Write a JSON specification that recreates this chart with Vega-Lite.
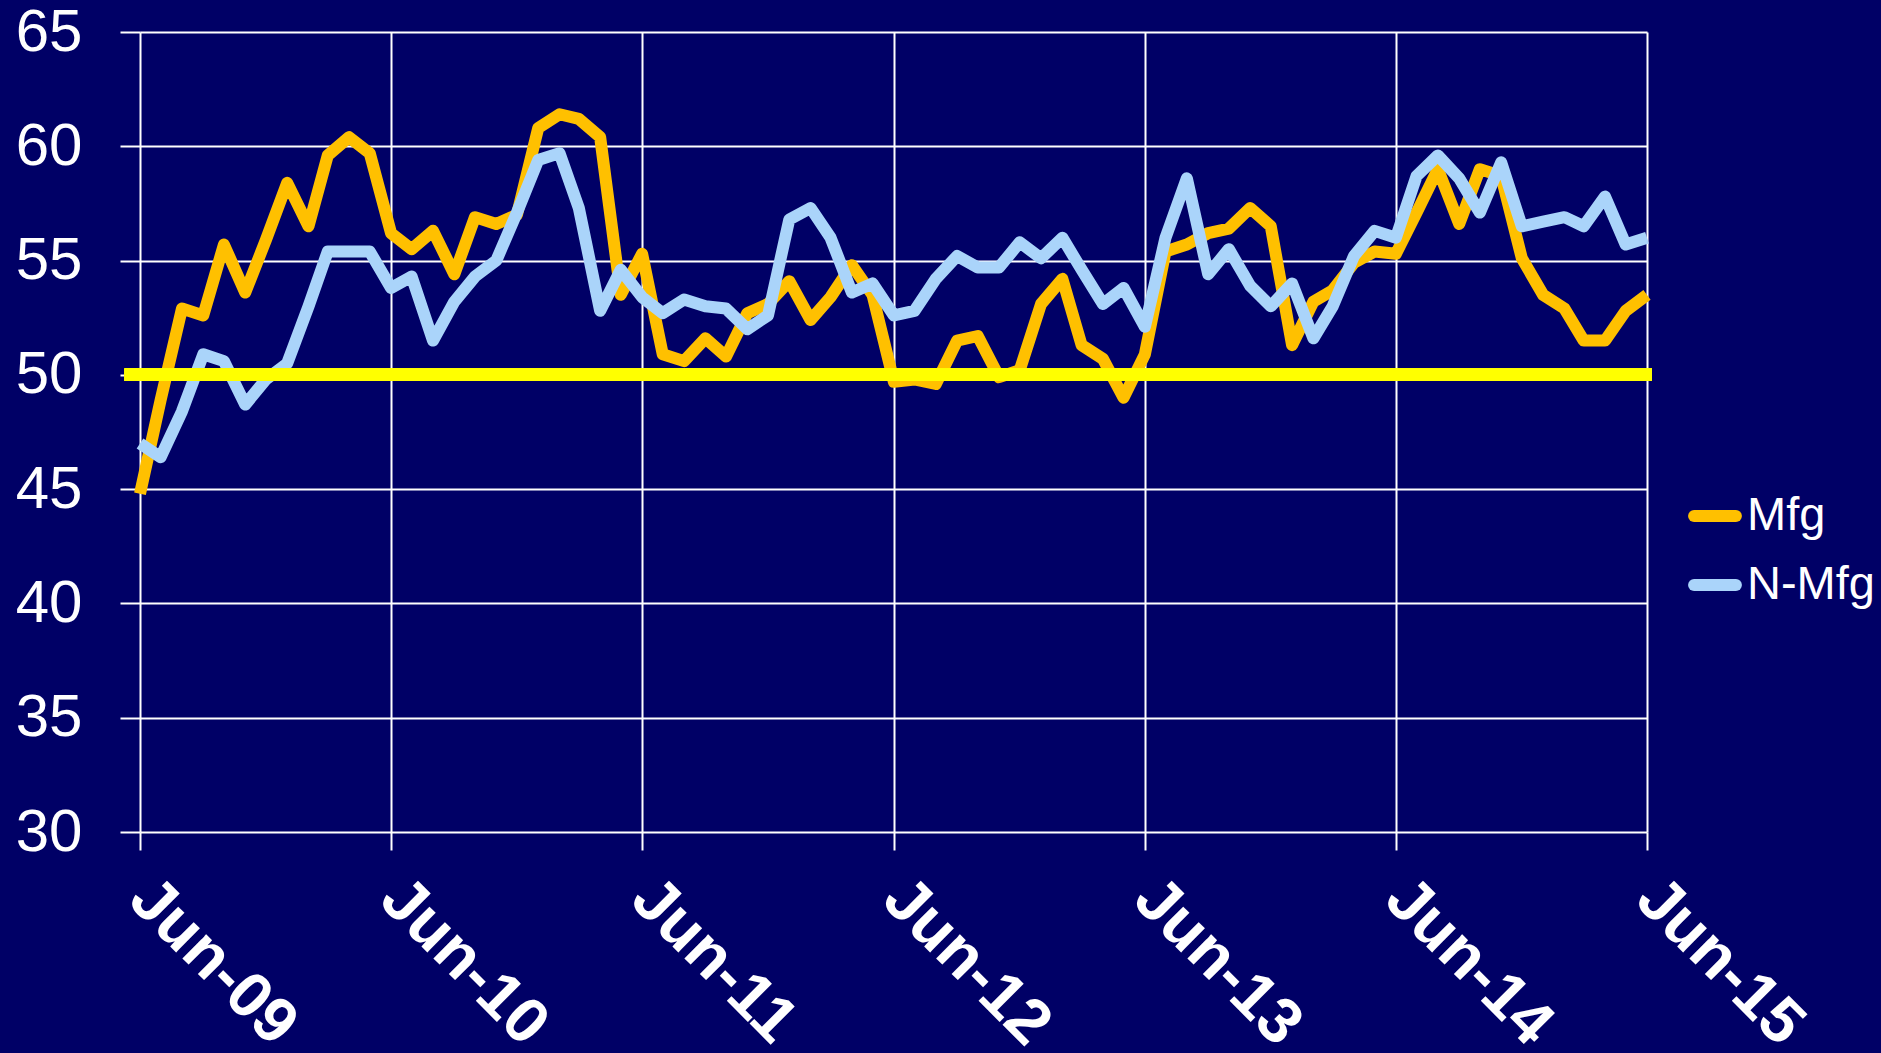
{
  "$schema": "https://vega.github.io/schema/vega-lite/v6.json",
  "width": 1507,
  "height": 800,
  "autosize": {"type": "none"},
  "padding": {"left": 140, "top": 32, "right": 234, "bottom": 221},
  "background": "#000066",
  "config": {
    "view": {"stroke": null},
    "font": "Liberation Sans",
    "legend": {"labelFont": "Liberation Sans"}
  },
  "datasets": {
    "pmi": [
      {"date": "2009-06-01", "series": "Mfg", "value": 44.8},
      {"date": "2009-07-01", "series": "Mfg", "value": 48.9},
      {"date": "2009-08-01", "series": "Mfg", "value": 52.9},
      {"date": "2009-09-01", "series": "Mfg", "value": 52.6},
      {"date": "2009-10-01", "series": "Mfg", "value": 55.7},
      {"date": "2009-11-01", "series": "Mfg", "value": 53.6},
      {"date": "2009-12-01", "series": "Mfg", "value": 55.9},
      {"date": "2010-01-01", "series": "Mfg", "value": 58.4},
      {"date": "2010-02-01", "series": "Mfg", "value": 56.5},
      {"date": "2010-03-01", "series": "Mfg", "value": 59.6},
      {"date": "2010-04-01", "series": "Mfg", "value": 60.4},
      {"date": "2010-05-01", "series": "Mfg", "value": 59.7},
      {"date": "2010-06-01", "series": "Mfg", "value": 56.2},
      {"date": "2010-07-01", "series": "Mfg", "value": 55.5},
      {"date": "2010-08-01", "series": "Mfg", "value": 56.3},
      {"date": "2010-09-01", "series": "Mfg", "value": 54.4},
      {"date": "2010-10-01", "series": "Mfg", "value": 56.9},
      {"date": "2010-11-01", "series": "Mfg", "value": 56.6},
      {"date": "2010-12-01", "series": "Mfg", "value": 57.0},
      {"date": "2011-01-01", "series": "Mfg", "value": 60.8},
      {"date": "2011-02-01", "series": "Mfg", "value": 61.4},
      {"date": "2011-03-01", "series": "Mfg", "value": 61.2},
      {"date": "2011-04-01", "series": "Mfg", "value": 60.4},
      {"date": "2011-05-01", "series": "Mfg", "value": 53.5},
      {"date": "2011-06-01", "series": "Mfg", "value": 55.3},
      {"date": "2011-07-01", "series": "Mfg", "value": 50.9},
      {"date": "2011-08-01", "series": "Mfg", "value": 50.6},
      {"date": "2011-09-01", "series": "Mfg", "value": 51.6},
      {"date": "2011-10-01", "series": "Mfg", "value": 50.8},
      {"date": "2011-11-01", "series": "Mfg", "value": 52.7},
      {"date": "2011-12-01", "series": "Mfg", "value": 53.1},
      {"date": "2012-01-01", "series": "Mfg", "value": 54.1},
      {"date": "2012-02-01", "series": "Mfg", "value": 52.4},
      {"date": "2012-03-01", "series": "Mfg", "value": 53.4},
      {"date": "2012-04-01", "series": "Mfg", "value": 54.8},
      {"date": "2012-05-01", "series": "Mfg", "value": 53.5},
      {"date": "2012-06-01", "series": "Mfg", "value": 49.7},
      {"date": "2012-07-01", "series": "Mfg", "value": 49.8},
      {"date": "2012-08-01", "series": "Mfg", "value": 49.6},
      {"date": "2012-09-01", "series": "Mfg", "value": 51.5},
      {"date": "2012-10-01", "series": "Mfg", "value": 51.7},
      {"date": "2012-11-01", "series": "Mfg", "value": 49.9},
      {"date": "2012-12-01", "series": "Mfg", "value": 50.2},
      {"date": "2013-01-01", "series": "Mfg", "value": 53.1},
      {"date": "2013-02-01", "series": "Mfg", "value": 54.2},
      {"date": "2013-03-01", "series": "Mfg", "value": 51.3},
      {"date": "2013-04-01", "series": "Mfg", "value": 50.7},
      {"date": "2013-05-01", "series": "Mfg", "value": 49.0},
      {"date": "2013-06-01", "series": "Mfg", "value": 50.9},
      {"date": "2013-07-01", "series": "Mfg", "value": 55.4},
      {"date": "2013-08-01", "series": "Mfg", "value": 55.7},
      {"date": "2013-09-01", "series": "Mfg", "value": 56.2},
      {"date": "2013-10-01", "series": "Mfg", "value": 56.4},
      {"date": "2013-11-01", "series": "Mfg", "value": 57.3},
      {"date": "2013-12-01", "series": "Mfg", "value": 56.5},
      {"date": "2014-01-01", "series": "Mfg", "value": 51.3},
      {"date": "2014-02-01", "series": "Mfg", "value": 53.2},
      {"date": "2014-03-01", "series": "Mfg", "value": 53.7},
      {"date": "2014-04-01", "series": "Mfg", "value": 54.9},
      {"date": "2014-05-01", "series": "Mfg", "value": 55.4},
      {"date": "2014-06-01", "series": "Mfg", "value": 55.3},
      {"date": "2014-07-01", "series": "Mfg", "value": 57.1},
      {"date": "2014-08-01", "series": "Mfg", "value": 59.0},
      {"date": "2014-09-01", "series": "Mfg", "value": 56.6},
      {"date": "2014-10-01", "series": "Mfg", "value": 59.0},
      {"date": "2014-11-01", "series": "Mfg", "value": 58.7},
      {"date": "2014-12-01", "series": "Mfg", "value": 55.1},
      {"date": "2015-01-01", "series": "Mfg", "value": 53.5},
      {"date": "2015-02-01", "series": "Mfg", "value": 52.9},
      {"date": "2015-03-01", "series": "Mfg", "value": 51.5},
      {"date": "2015-04-01", "series": "Mfg", "value": 51.5},
      {"date": "2015-05-01", "series": "Mfg", "value": 52.8},
      {"date": "2015-06-01", "series": "Mfg", "value": 53.5},
      {"date": "2009-06-01", "series": "N-Mfg", "value": 47.0},
      {"date": "2009-07-01", "series": "N-Mfg", "value": 46.4},
      {"date": "2009-08-01", "series": "N-Mfg", "value": 48.4},
      {"date": "2009-09-01", "series": "N-Mfg", "value": 50.9},
      {"date": "2009-10-01", "series": "N-Mfg", "value": 50.6},
      {"date": "2009-11-01", "series": "N-Mfg", "value": 48.7},
      {"date": "2009-12-01", "series": "N-Mfg", "value": 49.8},
      {"date": "2010-01-01", "series": "N-Mfg", "value": 50.5},
      {"date": "2010-02-01", "series": "N-Mfg", "value": 53.0},
      {"date": "2010-03-01", "series": "N-Mfg", "value": 55.4},
      {"date": "2010-04-01", "series": "N-Mfg", "value": 55.4},
      {"date": "2010-05-01", "series": "N-Mfg", "value": 55.4},
      {"date": "2010-06-01", "series": "N-Mfg", "value": 53.8},
      {"date": "2010-07-01", "series": "N-Mfg", "value": 54.3},
      {"date": "2010-08-01", "series": "N-Mfg", "value": 51.5},
      {"date": "2010-09-01", "series": "N-Mfg", "value": 53.2},
      {"date": "2010-10-01", "series": "N-Mfg", "value": 54.3},
      {"date": "2010-11-01", "series": "N-Mfg", "value": 55.0},
      {"date": "2010-12-01", "series": "N-Mfg", "value": 57.1},
      {"date": "2011-01-01", "series": "N-Mfg", "value": 59.4},
      {"date": "2011-02-01", "series": "N-Mfg", "value": 59.7},
      {"date": "2011-03-01", "series": "N-Mfg", "value": 57.3},
      {"date": "2011-04-01", "series": "N-Mfg", "value": 52.8},
      {"date": "2011-05-01", "series": "N-Mfg", "value": 54.6},
      {"date": "2011-06-01", "series": "N-Mfg", "value": 53.4},
      {"date": "2011-07-01", "series": "N-Mfg", "value": 52.7},
      {"date": "2011-08-01", "series": "N-Mfg", "value": 53.3},
      {"date": "2011-09-01", "series": "N-Mfg", "value": 53.0},
      {"date": "2011-10-01", "series": "N-Mfg", "value": 52.9},
      {"date": "2011-11-01", "series": "N-Mfg", "value": 52.0},
      {"date": "2011-12-01", "series": "N-Mfg", "value": 52.6},
      {"date": "2012-01-01", "series": "N-Mfg", "value": 56.8},
      {"date": "2012-02-01", "series": "N-Mfg", "value": 57.3},
      {"date": "2012-03-01", "series": "N-Mfg", "value": 56.0},
      {"date": "2012-04-01", "series": "N-Mfg", "value": 53.6},
      {"date": "2012-05-01", "series": "N-Mfg", "value": 54.0},
      {"date": "2012-06-01", "series": "N-Mfg", "value": 52.6},
      {"date": "2012-07-01", "series": "N-Mfg", "value": 52.8},
      {"date": "2012-08-01", "series": "N-Mfg", "value": 54.2},
      {"date": "2012-09-01", "series": "N-Mfg", "value": 55.2},
      {"date": "2012-10-01", "series": "N-Mfg", "value": 54.7},
      {"date": "2012-11-01", "series": "N-Mfg", "value": 54.7},
      {"date": "2012-12-01", "series": "N-Mfg", "value": 55.8},
      {"date": "2013-01-01", "series": "N-Mfg", "value": 55.1},
      {"date": "2013-02-01", "series": "N-Mfg", "value": 56.0},
      {"date": "2013-03-01", "series": "N-Mfg", "value": 54.6},
      {"date": "2013-04-01", "series": "N-Mfg", "value": 53.1},
      {"date": "2013-05-01", "series": "N-Mfg", "value": 53.8},
      {"date": "2013-06-01", "series": "N-Mfg", "value": 52.1},
      {"date": "2013-07-01", "series": "N-Mfg", "value": 56.0},
      {"date": "2013-08-01", "series": "N-Mfg", "value": 58.6},
      {"date": "2013-09-01", "series": "N-Mfg", "value": 54.4},
      {"date": "2013-10-01", "series": "N-Mfg", "value": 55.5},
      {"date": "2013-11-01", "series": "N-Mfg", "value": 53.9},
      {"date": "2013-12-01", "series": "N-Mfg", "value": 53.0},
      {"date": "2014-01-01", "series": "N-Mfg", "value": 54.0},
      {"date": "2014-02-01", "series": "N-Mfg", "value": 51.6},
      {"date": "2014-03-01", "series": "N-Mfg", "value": 53.0},
      {"date": "2014-04-01", "series": "N-Mfg", "value": 55.2},
      {"date": "2014-05-01", "series": "N-Mfg", "value": 56.3},
      {"date": "2014-06-01", "series": "N-Mfg", "value": 56.0},
      {"date": "2014-07-01", "series": "N-Mfg", "value": 58.7},
      {"date": "2014-08-01", "series": "N-Mfg", "value": 59.6},
      {"date": "2014-09-01", "series": "N-Mfg", "value": 58.6},
      {"date": "2014-10-01", "series": "N-Mfg", "value": 57.1},
      {"date": "2014-11-01", "series": "N-Mfg", "value": 59.3},
      {"date": "2014-12-01", "series": "N-Mfg", "value": 56.5},
      {"date": "2015-01-01", "series": "N-Mfg", "value": 56.7},
      {"date": "2015-02-01", "series": "N-Mfg", "value": 56.9},
      {"date": "2015-03-01", "series": "N-Mfg", "value": 56.5},
      {"date": "2015-04-01", "series": "N-Mfg", "value": 57.8},
      {"date": "2015-05-01", "series": "N-Mfg", "value": 55.7},
      {"date": "2015-06-01", "series": "N-Mfg", "value": 56.0}
    ]
  },
  "data": {"name": "pmi"},
  "encoding": {
    "x": {
      "field": "date",
      "type": "temporal",
      "scale": {
        "type": "utc",
        "domain": [
          {"year": 2009, "month": 6, "date": 1, "utc": true},
          {"year": 2015, "month": 6, "date": 1, "utc": true}
        ]
      },
      "axis": {
        "title": null,
        "values": [
          {"year": 2009, "month": 6, "date": 1, "utc": true},
          {"year": 2010, "month": 6, "date": 1, "utc": true},
          {"year": 2011, "month": 6, "date": 1, "utc": true},
          {"year": 2012, "month": 6, "date": 1, "utc": true},
          {"year": 2013, "month": 6, "date": 1, "utc": true},
          {"year": 2014, "month": 6, "date": 1, "utc": true},
          {"year": 2015, "month": 6, "date": 1, "utc": true}
        ],
        "format": "%b-%y",
        "labelAngle": 45,
        "labelAlign": "left",
        "labelBaseline": "top",
        "labelPadding": 16,
        "labelOffset": 22,
        "labelLimit": 0,
        "labelFont": "Liberation Sans",
        "labelFontWeight": "bold",
        "labelFontSize": 64,
        "labelColor": "#FFFFFF",
        "labelOverlap": false,
        "labelFlush": false,
        "labelBound": false,
        "tickColor": "#FFFFFF",
        "tickSize": 18,
        "tickWidth": 2,
        "grid": true,
        "gridColor": "#FFFFFF",
        "gridWidth": 2,
        "gridOpacity": 1,
        "domain": false
      }
    },
    "y": {
      "field": "value",
      "type": "quantitative",
      "scale": {"domain": [30, 65], "nice": false, "zero": false},
      "axis": {
        "title": null,
        "values": [30, 35, 40, 45, 50, 55, 60, 65],
        "labelFont": "Liberation Sans",
        "labelFontSize": 60,
        "labelColor": "#FFFFFF",
        "labelPadding": 38,
        "tickColor": "#FFFFFF",
        "tickSize": 20,
        "tickWidth": 2,
        "grid": true,
        "gridColor": "#FFFFFF",
        "gridWidth": 2,
        "gridOpacity": 1,
        "domain": false
      }
    }
  },
  "layer": [
    {
      "transform": [{"filter": "datum.series === 'Mfg'"}],
      "mark": {"type": "line", "strokeWidth": 12, "strokeJoin": "round", "strokeCap": "butt"},
      "encoding": {
        "color": {
          "field": "series",
          "type": "nominal",
          "scale": {"domain": ["Mfg", "N-Mfg"], "range": ["#FFC000", "#AAD4FA"]},
          "legend": {
            "title": null,
            "orient": "none",
            "legendX": 1548,
            "legendY": 457,
            "symbolType": "stroke",
            "symbolSize": 1750,
            "symbolStrokeWidth": 12,
            "labelFontSize": 47,
            "labelColor": "#FFFFFF",
            "labelOffset": 5,
            "rowPadding": 18,
            "padding": 0,
            "encode": {"symbols": {"update": {"strokeCap": {"value": "round"}}}}
          }
        }
      }
    },
    {
      "transform": [{"filter": "datum.series === 'N-Mfg'"}],
      "mark": {"type": "line", "strokeWidth": 12, "strokeJoin": "round", "strokeCap": "butt"},
      "encoding": {
        "color": {"field": "series", "type": "nominal"}
      }
    },
    {
      "mark": {"type": "rule", "color": "#FFFF00", "strokeWidth": 12},
      "encoding": {
        "y": {"datum": 50},
        "x": {"datum": {"year": 2009, "month": 5, "date": 10, "utc": true}},
        "x2": {"datum": {"year": 2015, "month": 6, "date": 8, "utc": true}}
      }
    }
  ]
}
